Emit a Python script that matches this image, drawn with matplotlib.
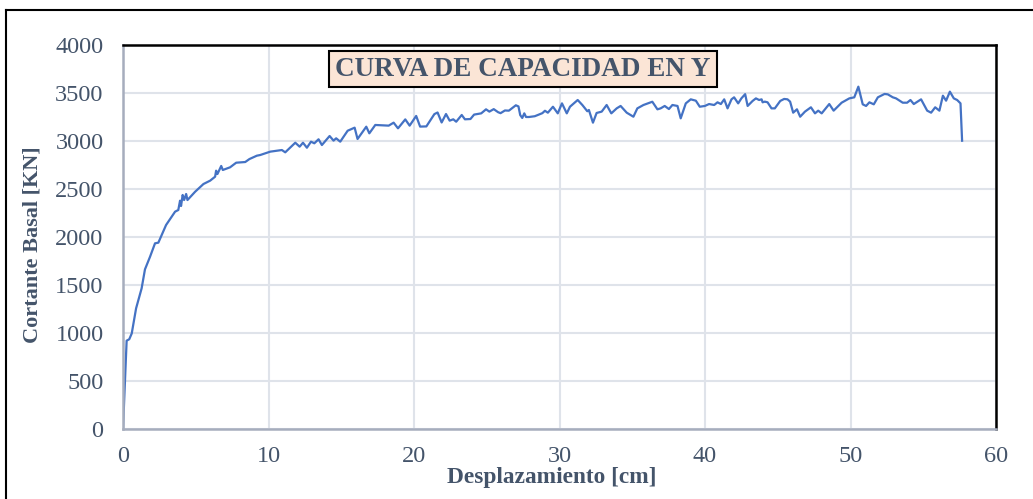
import matplotlib
matplotlib.use("Agg")
import matplotlib.pyplot as plt
from matplotlib.lines import Line2D

# curve (desplazamiento cm, cortante KN)
desp = [0, 0.25, 0.43, 0.6, 0.9, 1.28, 1.51, 1.86, 2.2, 2.43, 2.96, 3.58, 3.8, 3.92,
        3.99, 4.1, 4.2, 4.34, 4.43, 4.96, 5.53, 5.99, 6.33, 6.4, 6.49, 6.75, 6.86,
        7.36, 7.78, 8.4, 8.69, 9.2, 9.43, 10.12, 10.92, 11.15, 11.84, 12.14, 12.37,
        12.64, 12.92, 13.15, 13.44, 13.67, 14.2, 14.47, 14.65, 14.93, 15.44, 15.92,
        16.12, 16.72, 16.93, 17.34, 18.26, 18.6, 18.9, 19.4, 19.7, 20.15, 20.42,
        20.85, 21.4, 21.62, 21.9, 22.2, 22.45, 22.7, 22.9, 23.28, 23.5, 23.88, 24.13,
        24.62, 24.95, 25.18, 25.48, 25.78, 25.95, 26.25, 26.52, 27.0, 27.18, 27.3,
        27.44, 27.58, 27.7, 27.9, 28.3, 28.82, 29.0, 29.2, 29.55, 29.88, 30.17, 30.5,
        30.72, 31.25, 31.57, 31.91, 32.02, 32.3, 32.55, 32.9, 33.24, 33.56, 33.93,
        34.2, 34.62, 35.08, 35.35, 35.77, 36.38, 36.73, 36.95, 37.23, 37.52, 37.76,
        38.11, 38.33, 38.68, 39.02, 39.37, 39.64, 39.99, 40.28, 40.63, 40.86, 41.09,
        41.32, 41.55, 41.82, 42.0, 42.28, 42.5, 42.76, 42.93, 43.27, 43.5, 43.72,
        43.89, 43.96, 44.11, 44.3, 44.57, 44.8, 45.17, 45.44, 45.67, 45.85, 46.06,
        46.32, 46.54, 46.87, 47.28, 47.56, 47.78, 48.02, 48.54, 48.84, 49.39, 49.92,
        50.26, 50.54, 50.84, 51.07, 51.3, 51.6, 51.88, 52.34, 52.56, 52.91, 53.13,
        53.59, 53.89, 54.12, 54.35, 54.85, 55.27, 55.54, 55.82, 56.11, 56.35, 56.57,
        56.83, 57.1, 57.33, 57.56, 57.67]
cortante = [0, 920, 935, 995, 1257, 1465, 1663, 1795, 1934, 1941, 2125, 2264, 2281, 2378,
            2323, 2438, 2385, 2448, 2385, 2472, 2552, 2587, 2628, 2691, 2656, 2740, 2698,
            2726, 2774, 2781, 2812, 2847, 2854, 2889, 2906, 2882, 2982, 2941, 2982,
            2930, 2993, 2976, 3018, 2958, 3052, 3004, 3028, 2993, 3107, 3139,
            3021, 3149, 3080, 3167, 3160, 3191, 3132, 3225, 3160, 3261, 3150,
            3152, 3280, 3297, 3193, 3281, 3212, 3226, 3201, 3271, 3226, 3229, 3275,
            3288, 3330, 3306, 3332, 3300, 3290, 3318, 3316, 3372, 3360, 3270,
            3240, 3288, 3250, 3250, 3258, 3290, 3315, 3295, 3357, 3288, 3392, 3288,
            3357, 3427, 3375, 3310, 3323, 3191, 3292, 3306, 3375, 3288, 3340,
            3365, 3295, 3253, 3340, 3375, 3409, 3330, 3340, 3365, 3333, 3375,
            3365, 3236, 3392, 3434, 3420, 3357, 3365, 3385, 3375, 3403, 3385,
            3434, 3340, 3434, 3455, 3392, 3444, 3488, 3365, 3417, 3444, 3427,
            3434, 3403, 3410, 3403, 3340, 3340, 3417, 3438, 3434, 3410, 3295,
            3330, 3253, 3306, 3351, 3288, 3316, 3288, 3385, 3316, 3399, 3444,
            3455, 3566, 3382, 3365, 3403, 3382, 3455, 3490, 3486, 3455, 3444,
            3399, 3399, 3427, 3385, 3434, 3316, 3295, 3351, 3316, 3472, 3420,
            3514, 3444, 3427, 3392, 3003]

x_ticks = [0, 10, 20, 30, 40, 50, 60]
y_ticks = [0, 500, 1000, 1500, 2000, 2500, 3000, 3500, 4000]

txt = '#44546a'
plt.rcParams['font.family'] = ['Liberation Serif', 'DejaVu Serif']

fig = plt.figure(figsize=(10.33, 4.99), dpi=100)
ax = fig.add_axes([123/1033, 1 - 429/499, 873/1033, 384/499])

ax.plot(desp, cortante, color='#4472c4', lw=1.6, solid_joinstyle='round')

ax.set_xlim(0, 60)
ax.set_ylim(0, 4000)
ax.set_xticks(x_ticks)
ax.set_yticks(y_ticks)
ax.grid(True, color='#dfe3ea', lw=1.5)
ax.set_axisbelow(True)
ax.tick_params(length=0, labelsize=17.5, labelcolor=txt)
ax.tick_params(axis='y', pad=14)
ax.tick_params(axis='x', pad=12)

for s in ['left', 'bottom']:
    ax.spines[s].set_color('#a6adbd')
    ax.spines[s].set_linewidth(1.8)
for s in ['top', 'right']:
    ax.spines[s].set_color('black')
    ax.spines[s].set_linewidth(1.8)

fig.text(33/1033, 1 - 245/499, 'Cortante Basal [KN]', rotation=90, ha='center', va='center',
         fontsize=16, fontweight='bold', color=txt)
fig.text(552/1033, 1 - 478/499, 'Desplazamiento [cm]', ha='center', va='center',
         fontsize=16.8, fontweight='bold', color=txt)
fig.text(523/1033, 1 - 69/499, 'CURVA DE CAPACIDAD EN Y', ha='center', va='center',
         fontsize=19.5, fontweight='bold', color=txt,
         bbox=dict(boxstyle='square,pad=0.22', facecolor='#fbe5d6', edgecolor='black', lw=1.5))

# outer frame (left and top edges visible)
fig.add_artist(Line2D([6/1033, 6/1033], [0, 1 - 10/499], color='black', lw=1.5))
fig.add_artist(Line2D([6/1033, 1], [1 - 10/499, 1 - 10/499], color='black', lw=1.5))

fig.savefig('out.png', dpi=100)
